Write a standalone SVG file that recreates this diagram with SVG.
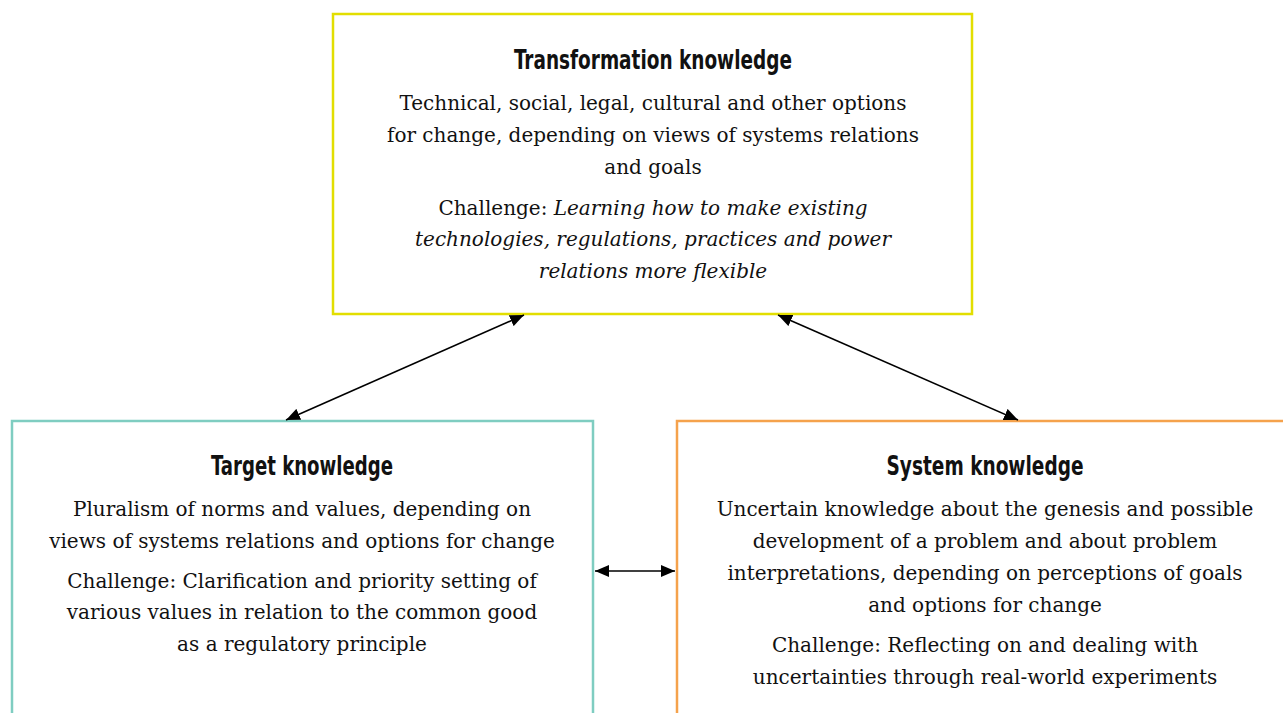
<svg xmlns="http://www.w3.org/2000/svg" width="1283" height="713" viewBox="0 0 1283 713">
<style>
.box{fill:#fff;stroke-width:2.5}
.title{font-family:"DejaVu Sans Condensed","DejaVu Sans",sans-serif;font-weight:bold;font-size:27px;text-anchor:middle;fill:#111}
.body{font-family:"DejaVu Serif",serif;font-size:20px;text-anchor:middle;fill:#111}
.conn{stroke:#000;stroke-width:1.6;fill:none;marker-start:url(#ah);marker-end:url(#ah)}
</style>
<defs>
<marker id="ah" viewBox="0 0 14 12" refX="14" refY="6" markerWidth="14" markerHeight="12" markerUnits="userSpaceOnUse" orient="auto-start-reverse">
<path d="M0,0 L14,6 L0,12 z" fill="#000"/>
</marker>
</defs>
<rect width="1283" height="713" fill="#fff"/>
<g id="transformation">
<rect class="box" x="333" y="14" width="639" height="300" stroke="#e2de00"/>
<text class="title" x="653" y="69" textLength="278" lengthAdjust="spacingAndGlyphs">Transformation knowledge</text>
<text class="body" x="653" y="110">Technical, social, legal, cultural and other options</text>
<text class="body" x="653" y="142">for change, depending on views of systems relations</text>
<text class="body" x="653" y="174">and goals</text>
<text class="body" x="653" y="215">Challenge: <tspan font-style="italic">Learning how to make existing</tspan></text>
<text class="body" x="653" y="246" font-style="italic">technologies, regulations, practices and power</text>
<text class="body" x="653" y="278" font-style="italic">relations more flexible</text>
</g>
<g id="target">
<rect class="box" x="12" y="421" width="581" height="310" stroke="#7fcdc1"/>
<text class="title" x="302" y="475" textLength="182" lengthAdjust="spacingAndGlyphs">Target knowledge</text>
<text class="body" x="302" y="516">Pluralism of norms and values, depending on</text>
<text class="body" x="302" y="548">views of systems relations and options for change</text>
<text class="body" x="302" y="588">Challenge: Clarification and priority setting of</text>
<text class="body" x="302" y="619">various values in relation to the common good</text>
<text class="body" x="302" y="651">as a regulatory principle</text>
</g>
<g id="system">
<rect class="box" x="677" y="421" width="615" height="310" stroke="#f5a24c"/>
<text class="title" x="985" y="475" textLength="197" lengthAdjust="spacingAndGlyphs">System knowledge</text>
<text class="body" x="985" y="516">Uncertain knowledge about the genesis and possible</text>
<text class="body" x="985" y="548">development of a problem and about problem</text>
<text class="body" x="985" y="580">interpretations, depending on perceptions of goals</text>
<text class="body" x="985" y="612">and options for change</text>
<text class="body" x="985" y="652">Challenge: Reflecting on and dealing with</text>
<text class="body" x="985" y="684">uncertainties through real-world experiments</text>
</g>
<g id="connectors">
<line class="conn" x1="524" y1="315" x2="286" y2="420"/>
<line class="conn" x1="778" y1="315" x2="1018" y2="420"/>
<line class="conn" x1="595" y1="571" x2="675" y2="571"/>
</g>
</svg>
